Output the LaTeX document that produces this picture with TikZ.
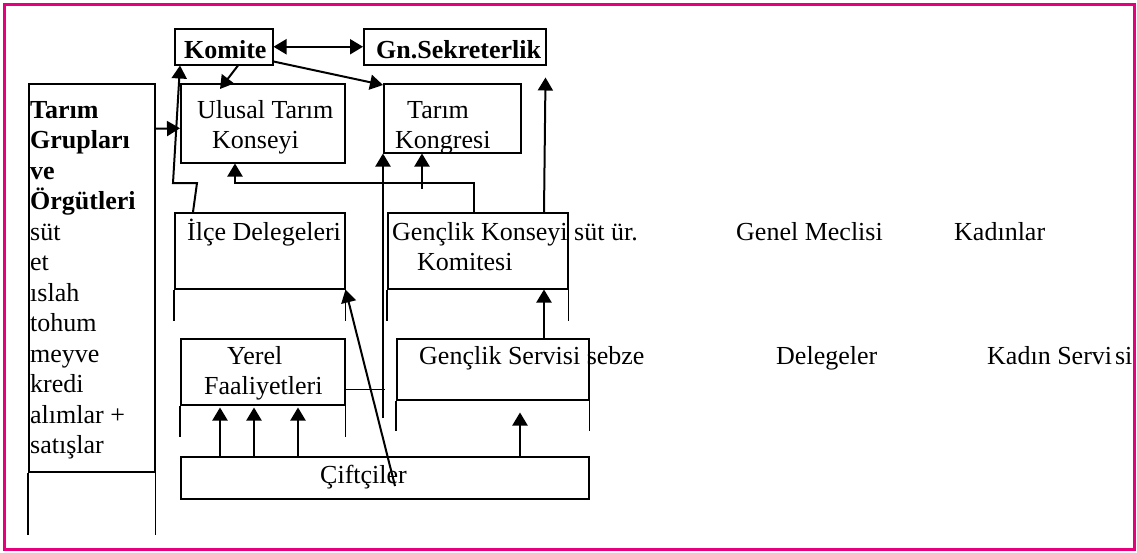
\documentclass[tikz,border=0pt]{standalone}
\usepackage{fontspec}
\setmainfont{Liberation Serif}
\usetikzlibrary{arrows.meta}
\definecolor{framepink}{RGB}{230,0,126}

\begin{document}
\begin{tikzpicture}[x=1pt,y=-1pt,
    box/.style={draw,line width=1.5pt,inner sep=0pt,anchor=north west},
    wire/.style={line width=1.5pt},
    txt/.style={anchor=base west,inner sep=0pt,font=\fontsize{26}{30}\selectfont},
    btxt/.style={txt,font=\fontsize{26}{30}\selectfont\bfseries},
    arr/.style={-{Triangle[length=13pt,width=15pt]},line width=2pt},
    darr/.style={{Triangle[length=13pt,width=15pt]}-{Triangle[length=13pt,width=15pt]},line width=2pt}]

  \useasboundingbox (0,0) rectangle (1137,552);
  \draw[framepink,line width=3pt] (4,4) rectangle (1134,549);

  % boxes
  \node[box,minimum width=98pt,minimum height=36pt] (komite) at (174,28) {};
  \node[box,minimum width=182pt,minimum height=36pt] (sekreter) at (363,28) {};
  \node[box,minimum width=126pt,minimum height=388pt] (grup) at (28,83) {};
  \node[box,minimum width=164pt,minimum height=79pt] (ulusal) at (180,83) {};
  \node[box,minimum width=137pt,minimum height=69pt] (kongre) at (383,83) {};
  \node[box,minimum width=170pt,minimum height=76pt] (ilce) at (174,212) {};
  \node[box,minimum width=180pt,minimum height=76pt] (genckonsey) at (387,212) {};
  \node[box,minimum width=164pt,minimum height=66pt] (yerel) at (180,338) {};
  \node[box,minimum width=192pt,minimum height=61pt] (gencservis) at (396,338) {};
  \node[box,minimum width=408pt,minimum height=42pt] (ciftci) at (180,456) {};

  % open cell sides below the boxes
  \draw[wire] (grup.south west) -- ++(0,62) (grup.south east) -- ++(0,62);
  \draw[wire] (ilce.south west) -- ++(0,31) (ilce.south east) -- ++(0,31);
  \draw[wire] (genckonsey.south west) -- ++(0,31) (genckonsey.south east) -- ++(0,31);
  \draw[wire] (yerel.south west) -- ++(0,31) (yerel.south east) -- ++(0,31);
  \draw[wire] (gencservis.south west) -- ++(0,30) (gencservis.south east) -- ++(0,30);

  % texts
  \node[btxt] (tkomite) at (184,58) {Komite};
  \node[btxt] (tsekreter) at (376,58) {Gn.Sekreterlik};
  \foreach \w [count=\i from 0] in {Tarım,Grupları,ve,Örgütleri}
    \node[btxt] (g\i) at (30,{118+30.5*\i}) {\w};
  \foreach \w [count=\i from 4] in {süt,et,ıslah,tohum,meyve,kredi,alımlar +,satışlar}
    \node[txt] (g\i) at (30,{118+30.5*\i}) {\w};
  \node[txt] (tulusal1) at (197,118) {Ulusal Tarım};
  \node[txt] (tulusal2) at (212,148) {Konseyi};
  \node[txt] (tkongre1) at (407,118) {Tarım};
  \node[txt] (tkongre2) at (395,148) {Kongresi};
  \node[txt] (tilce) at (187,240) {İlçe Delegeleri};
  \node[txt] (tkonsey1) at (392,240) {Gençlik Konseyi süt ür.};
  \node[txt] (tkonsey2) at (417,270) {Komitesi};
  \node[txt] (tmeclis) at (736,240) {Genel Meclisi};
  \node[txt] (tkadinlar) at (954,240) {Kadınlar};
  \node[txt] (tyerel1) at (227,364) {Yerel};
  \node[txt] (tyerel2) at (204,394) {Faaliyetleri};
  \node[txt] (tservis) at (419,364) {Gençlik Servisi sebze};
  \node[txt] (tdelege) at (776,364) {Delegeler};
  \node[txt] (tkadin) at (987,364) {Kadın Servi\kern3pt si};
  \node[txt] (tciftci) at (320,483) {Çiftçiler};

  % connectors
  \coordinate (kongbot) at (383,418);
  \draw[darr] (komite.east) -- (sekreter.west);
  \draw[arr] ([xshift=64pt]komite.south west) -- ([xshift=40pt,yshift=-6pt]ulusal.north west);
  \draw[arr] ([yshift=4pt]komite.south east) -- ([yshift=-2pt]kongre.north west);
  \draw[arr] ([yshift=149pt]grup.east) -- ([yshift=-5pt]ulusal.west);
  \draw[arr] ([xshift=19pt]ilce.north west) -- ++(4,-29) -- ++(-24,0) -- ([xshift=6pt]komite.south west);
  \draw[arr] ([xshift=87pt]genckonsey.north west) -- ++(0,-29) -| ([xshift=55pt]ulusal.south west);
  \draw[arr] ([xshift=39pt,yshift=-35pt]kongre.south west) -- ([xshift=39pt]kongre.south west);
  \draw[arr] ([xshift=157pt]genckonsey.north west) -- ([xshift=-1pt,yshift=-12pt]sekreter.south east);
  \draw[wire] ([yshift=16pt]yerel.south east) -- ++(39,0);
  \draw[arr] (kongbot) -- (kongre.south west);
  \foreach \dx in {40,74,118}
    \draw[arr] ([xshift=\dx pt]ciftci.north west) -- ([xshift=\dx pt,yshift=-2pt]yerel.south west);
  \draw[arr] ([xshift=340pt]ciftci.north west) -- ([xshift=124pt,yshift=-12pt]gencservis.south west);
  \draw[arr] ([xshift=148pt]gencservis.north west) -- ([xshift=157pt]genckonsey.south west);
  \draw[arr] ([xshift=215pt,yshift=-30pt]ciftci.north west) -- (ilce.south east);
\end{tikzpicture}
\end{document}
